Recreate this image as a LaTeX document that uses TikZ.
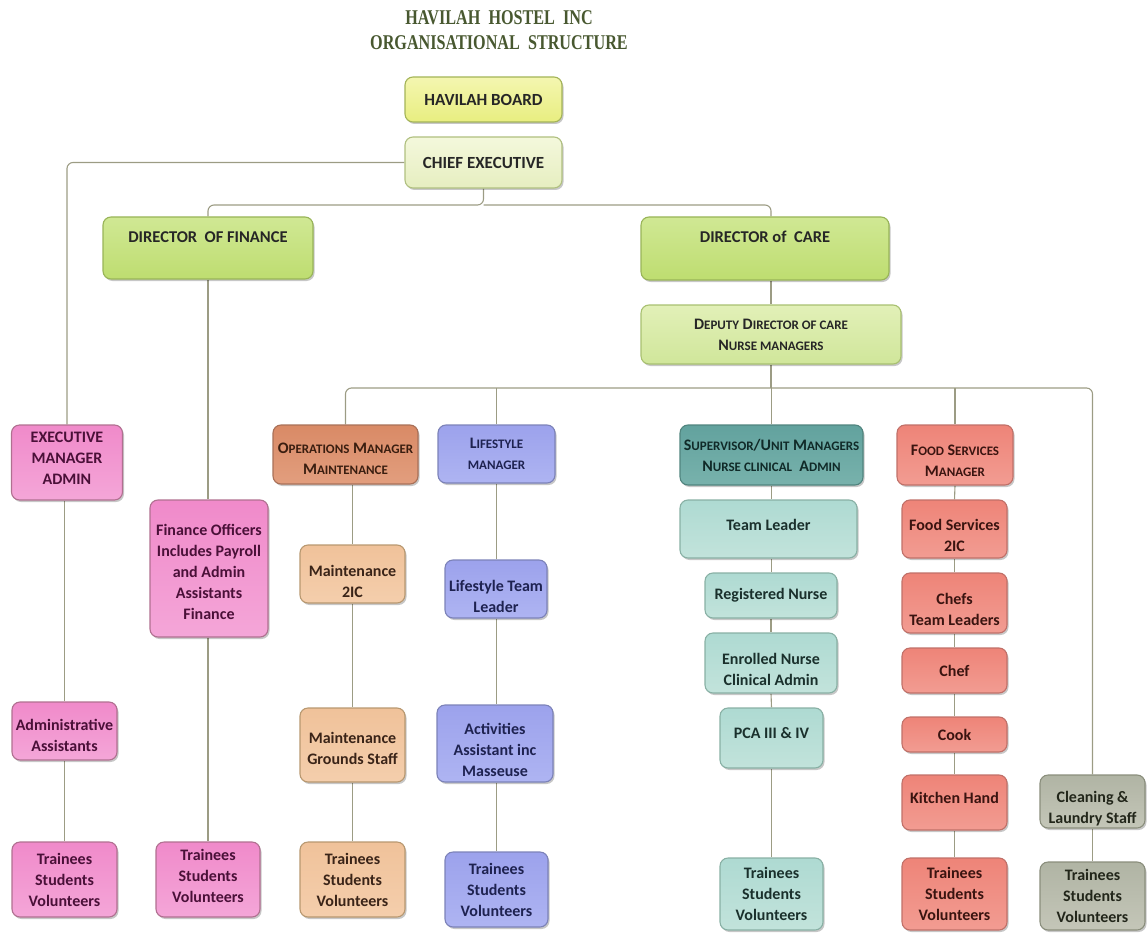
\documentclass[tikz,border=0pt]{standalone}
\usepackage{fontspec}
\setmainfont{Carlito}
\newfontfamily\titlefont{Liberation Serif}
\usetikzlibrary{shadows,backgrounds}

\definecolor{titleC}{HTML}{485830}
\definecolor{connC}{HTML}{9C9C84}
\definecolor{boardA}{HTML}{F4F6B0}\definecolor{boardB}{HTML}{E8EE80}\definecolor{boardD}{HTML}{A4B458}
\definecolor{chiefA}{HTML}{F4F8DC}\definecolor{chiefB}{HTML}{E6EEC0}\definecolor{chiefD}{HTML}{B0C080}
\definecolor{dirA}{HTML}{D0E894}\definecolor{dirB}{HTML}{BEDD70}\definecolor{dirD}{HTML}{98B458}
\definecolor{depA}{HTML}{E2F0B8}\definecolor{depB}{HTML}{D0E69A}\definecolor{depD}{HTML}{A8C070}
\definecolor{pinkA}{HTML}{F08ACA}\definecolor{pinkB}{HTML}{F4A6D8}\definecolor{pinkD}{HTML}{B07090}\definecolor{pinkT}{HTML}{4A1038}
\definecolor{opsA}{HTML}{D98A66}\definecolor{opsB}{HTML}{E29E7E}\definecolor{opsD}{HTML}{A87058}\definecolor{opsT}{HTML}{3A1E10}
\definecolor{orA}{HTML}{F0C29A}\definecolor{orB}{HTML}{F4CEAC}\definecolor{orD}{HTML}{B89870}\definecolor{orT}{HTML}{3A2418}
\definecolor{blA}{HTML}{9CA2EC}\definecolor{blB}{HTML}{AEB4F2}\definecolor{blD}{HTML}{7C82B8}\definecolor{blT}{HTML}{1E2250}
\definecolor{tdA}{HTML}{62A29E}\definecolor{tdB}{HTML}{78B2AC}\definecolor{tdD}{HTML}{50847E}\definecolor{tdT}{HTML}{102A28}
\definecolor{tlA}{HTML}{AEDAD2}\definecolor{tlB}{HTML}{C2E3DB}\definecolor{tlD}{HTML}{88B0A4}\definecolor{tlT}{HTML}{1A302C}
\definecolor{saA}{HTML}{EE8478}\definecolor{saB}{HTML}{F29C92}\definecolor{saD}{HTML}{C07068}\definecolor{saT}{HTML}{3A1410}
\definecolor{grA}{HTML}{B0B4A4}\definecolor{grB}{HTML}{C4C6B8}\definecolor{grD}{HTML}{8A8E7C}\definecolor{grT}{HTML}{22261A}

\newcommand\sm[1]{{\fontsize{13}{21}\selectfont #1}}
\newcommand\dn[1]{\rule{0pt}{#1pt}}
\newcommand\up[1]{\rule[-#1pt]{0pt}{0pt}}

\tikzset{
  box/.style={rounded corners=8pt, line width=1.1pt, align=center, inner sep=2pt,
    font=\fontsize{16}{21}\selectfont\bfseries,
    drop shadow={shadow xshift=1.5pt, shadow yshift=-2pt, opacity=0.22, fill=black}},
  wh/.style 2 args={minimum width=#1pt, minimum height=#2pt},
  boardbox/.style={box, draw=boardD, top color=boardA, bottom color=boardB, text=black!85, font=\fontsize{17}{21}\selectfont\bfseries},
  chiefbox/.style={box, draw=chiefD, top color=chiefA, bottom color=chiefB, text=black!85, font=\fontsize{17}{21}\selectfont\bfseries},
  dirbox/.style={box, draw=dirD, top color=dirA, bottom color=dirB, text=black!85, font=\fontsize{16.5}{21}\selectfont\bfseries},
  depbox/.style={box, draw=depD, top color=depA, bottom color=depB, text=black!85},
  pinkbox/.style={box, draw=pinkD, top color=pinkA, bottom color=pinkB, text=pinkT},
  opsbox/.style={box, draw=opsD, top color=opsA, bottom color=opsB, text=opsT},
  orbox/.style={box, draw=orD, top color=orA, bottom color=orB, text=orT},
  blbox/.style={box, draw=blD, top color=blA, bottom color=blB, text=blT},
  tdbox/.style={box, draw=tdD, top color=tdA, bottom color=tdB, text=tdT},
  tlbox/.style={box, draw=tlD, top color=tlA, bottom color=tlB, text=tlT},
  sabox/.style={box, draw=saD, top color=saA, bottom color=saB, text=saT},
  grbox/.style={box, draw=grD, top color=grA, bottom color=grB, text=grT},
  conn/.style={draw=connC, line width=1.1pt, rounded corners=6pt},
  titlef/.style={font=\titlefont\bfseries\fontsize{21}{24}\selectfont, text=titleC, inner sep=0pt}
}

\begin{document}
\begin{tikzpicture}[x=1pt,y=-1pt]
\useasboundingbox (0,0) rectangle (1147,933);

% title
\node[titlef] (t1) at (499,18) {\scalebox{0.77}[1]{HAVILAH\ \ HOSTEL\ \ INC}};
\node[titlef] (t2) at (499,43) {\scalebox{0.77}[1]{ORGANISATIONAL\ \ STRUCTURE}};

% top
\node[boardbox, wh={157}{45}] (board) at (483.5,99.5) {HAVILAH BOARD};
\node[chiefbox, wh={157}{51}] (chief) at (483.5,162.5) {CHIEF EXECUTIVE};
\node[dirbox, wh={210}{62}] (fin) at (208,248) {DIRECTOR\ \ OF FINANCE\up{22}};
\node[dirbox, wh={248}{63}] (care) at (765,248.5) {DIRECTOR of\ \ CARE\up{23}};
\node[depbox, wh={260}{59}] (deputy) at (771,334.5) {D\sm{EPUTY} D\sm{IRECTOR OF CARE}\\N\sm{URSE MANAGERS}};

% managers row
\node[pinkbox, wh={111}{75}] (execmgr) at (67,462.5) {EXECUTIVE\\MANAGER\\ADMIN\up{9}};
\node[opsbox, wh={145}{59}] (ops) at (345.5,454.5) {\dn{19.5}O\sm{PERATIONS} M\sm{ANAGER}\\M\sm{AINTENANCE}};
\node[blbox, wh={117}{58}] (life) at (496.5,454) {L\sm{IFESTYLE}\\\sm{MANAGER}};
\node[tdbox, wh={183}{60}] (sup) at (771.5,455) {S\sm{UPERVISOR}/U\sm{NIT} M\sm{ANAGERS}\\N\sm{URSE CLINICAL}\ \ A\sm{DMIN}};
\node[sabox, wh={116}{60}] (food) at (955,455) {\dn{21.5}F\sm{OOD} S\sm{ERVICES}\\M\sm{ANAGER}};

% finance column
\node[pinkbox, wh={118}{137}] (finoff) at (209,568.5) {\dn{18.5}Finance Officers\\Includes Payroll\\and Admin\\Assistants\\Finance};
\node[pinkbox, wh={104}{75}] (tr2) at (208,879.5) {Trainees\\Students\\Volunteers\up{8}};

% admin column
\node[pinkbox, wh={105}{58}] (admin) at (64.5,731) {\dn{20.5}Administrative\\Assistants};
\node[pinkbox, wh={105}{75}] (tr1) at (64.5,879.5) {Trainees\\Students\\Volunteers};

% operations column
\node[orbox, wh={105}{58}] (m2ic) at (352.5,574) {\dn{25.5}Maintenance\\2IC};
\node[orbox, wh={105}{74}] (grounds) at (352.5,745) {\dn{17.5}Maintenance\\Grounds Staff};
\node[orbox, wh={105}{75}] (tr3) at (352.5,879.5) {Trainees\\Students\\Volunteers};

% lifestyle column
\node[blbox, wh={102}{58}] (ltl) at (496,589) {\dn{25.5}Lifestyle Team\\Leader};
\node[blbox, wh={116}{77}] (act) at (495,743.5) {\dn{24.5}Activities\\Assistant inc\\Masseuse};
\node[blbox, wh={103}{75}] (tr4) at (496.5,889.5) {Trainees\\Students\\Volunteers};

% care column
\node[tlbox, wh={177}{58}] (tl) at (768.5,529) {Team Leader\up{8}};
\node[tlbox, wh={132}{45}] (rn) at (771,595.5) {Registered Nurse};
\node[tlbox, wh={132}{60}] (en) at (771,663) {\dn{23.5}Enrolled Nurse\\Clinical Admin};
\node[tlbox, wh={103}{60}] (pca) at (771.5,738) {PCA III \& IV\up{10}};
\node[tlbox, wh={103}{72}] (tr5) at (771.5,894) {Trainees\\Students\\Volunteers};

% food column
\node[sabox, wh={105}{58}] (f2ic) at (954.5,529) {\dn{23.5}Food Services\\2IC};
\node[sabox, wh={105}{60}] (chefs) at (954.5,603) {\dn{23.5}Chefs\\Team Leaders};
\node[sabox, wh={105}{45}] (chef) at (954.5,670.5) {Chef};
\node[sabox, wh={105}{35}] (cook) at (954.5,734.5) {Cook};
\node[sabox, wh={105}{55}] (kh) at (954.5,802.5) {Kitchen Hand\up{9}};
\node[sabox, wh={105}{72}] (tr6) at (954.5,894) {Trainees\\Students\\Volunteers};

% cleaning column
\node[grbox, wh={105}{53}] (clean) at (1092.5,801.5) {\dn{24.5}Cleaning \&\\Laundry Staff};
\node[grbox, wh={105}{68}] (tr7) at (1092.5,896) {Trainees\\Students\\Volunteers};

\coordinate (j1) at (483.5,205);
\coordinate (bus) at (771,388);

\begin{pgfonlayer}{background}
\draw[conn] (chief.west) -| (execmgr.north);
\draw[conn] (chief.south) -- (j1) -| (fin.north);
\draw[conn] (j1) -| ([xshift=6pt]care.north);
\draw[conn] ([xshift=6pt]care.south) -- (deputy.north);
\draw[conn] (deputy.south) -- (bus);
\draw[conn] (ops.north) |- (bus) -| (clean.north);
\draw[conn] (life.north) -- (life.north |- bus);
\draw[conn] (sup.north) -- (sup.north |- bus);
\draw[conn] (food.north) -- (food.north |- bus);
% columns
\draw[conn] (admin.north |- execmgr.south) -- (admin.north);
\draw[conn] (admin.south) -- (tr1.north);
\draw[conn] (fin.south) -- (fin.south |- finoff.north);
\draw[conn] (fin.south |- finoff.south) -- (fin.south |- tr2.north);
\draw[conn] (m2ic.north |- ops.south) -- (m2ic.north);
\draw[conn] (m2ic.south) -- (grounds.north);
\draw[conn] (grounds.south) -- (tr3.north);
\draw[conn] (life.south) -- (life.south |- ltl.north);
\draw[conn] (life.south |- ltl.south) -- (life.south |- act.north);
\draw[conn] (life.south |- act.south) -- (life.south |- tr4.north);
\draw[conn] (sup.south) -- (sup.south |- tl.north);
\draw[conn] (sup.south |- tl.south) -- (sup.south |- rn.north);
\draw[conn] (rn.south) -- (en.north);
\draw[conn] (en.south) -- (pca.north);
\draw[conn] (pca.south) -- (tr5.north);
\draw[conn] (food.south) -- (f2ic.north);
\draw[conn] (f2ic.south) -- (chefs.north);
\draw[conn] (chefs.south) -- (chef.north);
\draw[conn] (chef.south) -- (cook.north);
\draw[conn] (cook.south) -- (kh.north);
\draw[conn] (kh.south) -- (tr6.north);
\draw[conn] (clean.south) -- (tr7.north);
\end{pgfonlayer}
\end{tikzpicture}
\end{document}
